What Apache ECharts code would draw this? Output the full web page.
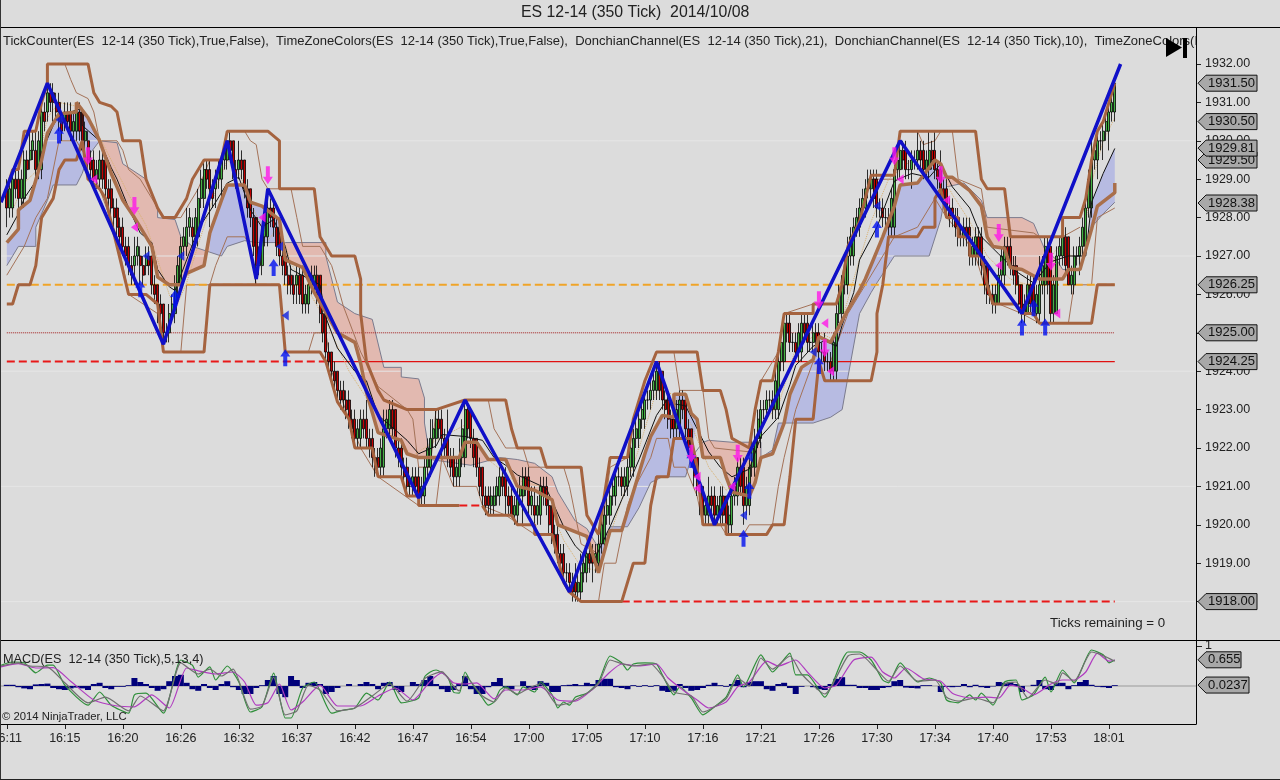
<!DOCTYPE html>
<html><head><meta charset="utf-8">
<style>html,body{margin:0;padding:0;background:#dcdcdc}#c{width:1280px;height:780px}</style>
<script src="https://cdn.jsdelivr.net/npm/echarts@6/dist/echarts.min.js"></script>
</head><body><div id="c"></div>
<script>
const timeLabels=['16:11','16:15','16:20','16:26','16:32','16:37','16:42','16:47','16:54','17:00','17:05','17:10','17:16','17:21','17:26','17:30','17:34','17:40','17:53','18:01'];
const priceTicks=[1932,1931,1930,1929,1928,1927,1926,1925,1924,1923,1922,1921,1920,1919,1918];
const faintLevels=[1930,1927,1924,1921,1918];
const priceTags=[1931.5,1930.5,1929.5,1929.81,1928.38,1926.25,1925,1924.25,1918];
const macdTags=[['0.655',0.655],['0.0237',0.0237]];

const barOpen=[1928.75,1928.25,1929,1928.5,1929.5,1929.75,1929.25,1930.75,1931.25,1931,
1930.5,1930.75,1930.25,1930.75,1930,1929.5,1929,1929.5,1928.75,1928.25,
1927.75,1927.25,1926.75,1927,1926.75,1927,1926.25,1925.75,1925,1925.5,
1926.25,1927.25,1927.75,1927.5,1928.5,1929.25,1928.75,1929,1929.5,1930,
1929.25,1929.5,1928.75,1928,1926.75,1927.5,1928.25,1927.75,1927,1926.5,
1926.25,1926.5,1925.75,1926.25,1926.5,1925.5,1924.5,1924,1923.5,1923.25,
1922.75,1922.25,1922.75,1922.25,1921.75,1921.5,1922.5,1923,1922,1921.5,
1921,1921.25,1920.75,1921.5,1922.25,1922.75,1922.25,1921.75,1921.25,1921.75,
1923,1922.25,1921.5,1920.75,1920.5,1920.75,1921.25,1920.75,1920.25,1920.75,
1921.25,1920.5,1920.25,1921,1920.5,1919.75,1919.25,1918.75,1918.5,1918.25,
1918.75,1919.25,1919,1919.5,1920.25,1920.75,1921.25,1921,1921.5,1922.25,
1922.75,1923.25,1923.5,1924,1923.25,1922.75,1922.5,1923.25,1922.5,1921.75,
1921,1920.25,1920.75,1920.25,1920.75,1920,1920.75,1921.5,1920.5,1921.5,
1922.25,1923,1923.25,1923,1924.25,1925.25,1924.75,1924.5,1925.25,1924.75,
1925,1924.5,1924.25,1924,1925.5,1926.25,1927,1927.75,1928.25,1928.75,
1929,1928.25,1928,1927.75,1929.25,1929.75,1929.25,1929.5,1929.75,1929.25,
1929.75,1929.25,1928.75,1928.25,1928,1927.5,1927.75,1927,1927.5,1926.75,
1926,1925.75,1926.5,1927.25,1926.75,1926.25,1925.5,1926.25,1925.5,1926.25,
1927.25,1925.5,1927,1927.5,1926.25,1927,1927.25,1928.25,1929.5,1930,
1930.25,1930.75];
const barClose=[1928.25,1929,1928.5,1929.5,1929.75,1929.25,1930.75,1931.25,1931,1930.5,
1930.75,1930.25,1930.75,1930,1929.5,1929,1929.5,1928.75,1928.25,1927.75,
1927.25,1926.75,1927,1926.75,1927,1926.25,1925.75,1925,1925.5,1926.25,
1927.25,1927.75,1927.5,1928.5,1929.25,1928.75,1929,1929.5,1930,1929.25,
1929.5,1928.75,1928,1926.75,1927.5,1928.25,1927.75,1927,1926.5,1926.25,
1926.5,1925.75,1926.25,1926.5,1925.5,1924.5,1924,1923.5,1923.25,1922.75,
1922.25,1922.75,1922.25,1921.75,1921.5,1922.5,1923,1922,1921.5,1921,
1921.25,1920.75,1921.5,1922.25,1922.75,1922.25,1921.75,1921.25,1921.75,1923,
1922.25,1921.5,1920.75,1920.5,1920.75,1921.25,1920.75,1920.25,1920.75,1921.25,
1920.5,1920.25,1921,1920.5,1919.75,1919.25,1918.75,1918.5,1918.25,1918.75,
1919.25,1919,1919.5,1920.25,1920.75,1921.25,1921,1921.5,1922.25,1922.75,
1923.25,1923.5,1924,1923.25,1922.75,1922.5,1923.25,1922.5,1921.75,1921,
1920.25,1920.75,1920.25,1920.75,1920,1920.75,1921.5,1920.5,1921.5,1922.25,
1923,1923.25,1923,1924.25,1925.25,1924.75,1924.5,1925.25,1924.75,1925,
1924.5,1924.25,1924,1925.5,1926.25,1927,1927.75,1928.25,1928.75,1929,
1928.25,1928,1927.75,1929.25,1929.75,1929.25,1929.5,1929.75,1929.25,1929.75,
1929.25,1928.75,1928.25,1928,1927.5,1927.75,1927,1927.5,1926.75,1926,
1925.75,1926.5,1927.25,1926.75,1926.25,1925.5,1926.25,1925.5,1926.25,1927.25,
1925.5,1927,1927.5,1926.25,1927,1927.25,1928.25,1929.5,1930,1930.25,
1930.75,1931.5];
const barHigh=[1929,1929.25,1929.25,1929.75,1930.25,1930.25,1931,1931.5,1931.5,1931.25,
1931,1931,1930.75,1930.75,1930.25,1929.75,1929.75,1929.5,1929,1928.5,
1928,1927.5,1927.5,1927.25,1927.25,1927,1926.25,1925.75,1925.75,1926.5,
1927.5,1928.25,1928,1928.75,1929.5,1929.5,1929.25,1929.5,1930.25,1930,
1930,1929.5,1928.75,1928,1927.75,1928.75,1928.5,1928,1927,1926.75,
1926.75,1926.75,1926.5,1926.75,1926.5,1925.5,1924.5,1924,1923.75,1923.5,
1923,1923,1923.25,1922.5,1922,1923,1923.25,1923,1922.25,1921.75,
1921.5,1921.5,1921.75,1922.75,1923,1923,1923,1922,1922.25,1923.25,
1923,1922.25,1921.5,1921,1921,1921.5,1921.5,1921,1921,1921.5,
1921.5,1921,1921.25,1921.25,1920.5,1920,1919.5,1919,1919,1919.25,
1919.5,1919.5,1919.75,1920.5,1921,1921.5,1921.5,1921.75,1922.5,1923,
1923.5,1923.75,1924.25,1924,1923.5,1923.25,1923.5,1923.25,1922.5,1921.75,
1921,1921.25,1921,1921,1920.75,1921,1921.75,1921.75,1921.75,1922.5,
1923.25,1923.5,1923.5,1924.5,1925.5,1925.5,1925,1925.5,1925.5,1925.25,
1925.25,1925,1924.5,1925.75,1926.5,1927.5,1928,1928.5,1929,1929.25,
1929.25,1928.5,1928.25,1929.5,1930,1930,1929.75,1930.25,1930,1930.25,
1930.25,1929.75,1929,1928.5,1928.25,1928,1928,1927.75,1927.75,1926.75,
1926.25,1926.75,1927.5,1927.5,1927,1926.25,1926.5,1926.5,1927,1927.5,
1927.25,1927.25,1927.5,1927.5,1927.25,1927.5,1928.5,1930,1930.25,1930.5,
1931,1931.5];
const barLow=[1927.75,1928,1928.25,1928.25,1929.25,1929,1929,1930.5,1930.5,1930.25,
1930.25,1930,1930,1929.75,1929.25,1928.75,1928.75,1928.5,1928,1927.5,
1927,1926.5,1926.25,1926.25,1926.5,1926,1925.25,1924.75,1924.75,1925.25,
1926,1927,1927.25,1927.25,1928.25,1927.75,1928.25,1928.5,1929.25,1929,
1929,1928.5,1927.75,1926.25,1926.5,1927.25,1927.5,1926.75,1926.25,1926,
1925.75,1925.5,1925.5,1926,1925.25,1924.25,1923.75,1923.25,1923,1922.5,
1922,1922,1922,1921.5,1921.25,1921.25,1922.25,1921.75,1921.25,1920.75,
1920.75,1920.5,1920.5,1921.25,1922,1921.75,1921.5,1921,1921,1921.5,
1922,1921.25,1920.5,1920.25,1920.25,1920.5,1920.25,1920.25,1920,1920,
1920.25,1920,1920,1920.25,1919.5,1919,1918.5,1918.25,1918,1918,
1918.5,1918.5,1918.75,1919.25,1920,1920.5,1920.75,1920.75,1921.25,1922,
1922.5,1923,1923.25,1923,1922.5,1922,1922.25,1922.25,1921.5,1920.75,
1920,1920,1920,1920,1919.75,1919.75,1920.5,1920,1920.25,1921.25,
1922,1922.75,1922.75,1922.75,1924,1924.5,1924.25,1924.25,1924.5,1924.5,
1924.25,1924,1923.75,1923.75,1925.25,1926,1926.75,1927.5,1928,1928.5,
1928,1927.75,1927.5,1927.5,1929,1929,1928.75,1929.25,1929,1929,
1929,1928.5,1928,1927.75,1927.25,1927.25,1926.75,1926.75,1926.5,1925.75,
1925.5,1925.75,1926.25,1926.5,1926,1925.25,1925.5,1925.5,1925.25,1925.25,
1925.25,1925.5,1926.75,1926.25,1926,1926.5,1927,1928,1929,1929.5,
1929.75,1930.5];
const interClose=[1928.75,1928.75,1929,1929.25,1930,1930,1930.5,1931,1930.75,1930.25,
1930.5,1930.5,1930.25,1930.25,1929.25,1929.25,1929,1928.5,1928,1927.5,
1927,1926.5,1927.25,1926.5,1926.75,1926,1925.5,1925,1925.75,1926.75,
1927.5,1928,1928,1929,1929,1928.5,1929.25,1929.75,1929.75,1929,
1929.25,1928.25,1927.25,1927,1928,1928,1927.25,1926.75,1926.25,1926,
1926,1926,1926.5,1926,1925,1924.25,1923.75,1923.25,1923,1922.5,
1922.5,1922.5,1922,1921.5,1922,1922.75,1922.5,1921.75,1921.25,1921,
1921,1921,1922,1922.5,1922.5,1922,1921.5,1921.5,1922.5,1922.5,
1921.75,1921,1920.5,1920.75,1921,1921,1920.5,1920.5,1921,1921,
1920.75,1920.5,1920.75,1920,1919.5,1919,1918.75,1918.25,1918.5,1919,
1919,1919.25,1920,1920.5,1921,1921.25,1921.25,1922,1922.5,1923,
1923.25,1923.75,1923.5,1923,1922.5,1923,1923,1922,1921.25,1920.5,
1920.5,1920.5,1920.5,1920.25,1920.25,1921,1921,1921,1922,1922.75,
1923,1923.25,1923.75,1924.75,1925,1924.75,1925,1925,1924.75,1924.75,
1924.5,1924.25,1924.75,1926,1926.75,1927.5,1928,1928.5,1929,1928.5,
1928.25,1928,1928.5,1929.5,1929.5,1929.25,1929.5,1929.5,1929.5,1929.5,
1929,1928.5,1928,1927.75,1927.5,1927.5,1927.25,1927,1926.25,1926,
1926,1927,1927,1926.5,1925.75,1925.75,1925.75,1926,1926.75,1926.25,
1926.25,1927.25,1926.75,1926.5,1927,1927.75,1929,1929.75,1930,1930.5,
1931];
const interHigh=[1929,1929.25,1929.25,1929.75,1930.25,1930.25,1931,1931.5,1931.25,1930.75,
1931,1930.75,1931,1930.5,1929.75,1929.5,1929.75,1929,1928.5,1928,
1927.5,1927,1927.5,1927,1927.25,1926.5,1926,1925.25,1926,1927,
1927.75,1928.25,1928.25,1929.25,1929.5,1929,1929.5,1930,1930.25,1929.5,
1929.75,1929,1928.25,1927.25,1928.25,1928.5,1928,1927.25,1926.75,1926.5,
1926.75,1926.25,1926.75,1926.75,1925.75,1924.75,1924.25,1923.75,1923.5,1923,
1922.75,1923,1922.5,1922,1922.25,1923,1923.25,1922.25,1921.75,1921.25,
1921.5,1921.25,1922.25,1922.75,1923,1922.5,1922,1921.75,1922.75,1923.25,
1922.5,1921.75,1921,1921,1921.25,1921.5,1921,1920.75,1921.25,1921.5,
1921,1920.75,1921.25,1920.75,1920,1919.5,1919,1918.75,1918.75,1919.25,
1919.5,1919.5,1920.25,1920.75,1921.25,1921.5,1921.5,1922.25,1922.75,1923.25,
1923.5,1924,1924.25,1923.5,1923,1923.25,1923.5,1922.75,1922,1921.25,
1920.75,1921,1920.75,1921,1920.5,1921.25,1921.75,1921.25,1922.25,1923,
1923.25,1923.5,1924,1925,1925.5,1925,1925.25,1925.5,1925,1925.25,
1924.75,1924.5,1925,1926.25,1927,1927.75,1928.25,1928.75,1929.25,1929.25,
1928.5,1928.25,1928.75,1929.75,1930,1929.5,1929.75,1930,1929.75,1930,
1929.5,1929,1928.5,1928.25,1927.75,1928,1927.5,1927.75,1927,1926.25,
1926.25,1927.25,1927.5,1927,1926.5,1926,1926.5,1926.25,1927,1927.5,
1926.5,1927.5,1927.75,1926.75,1927.25,1928,1929.25,1930,1930.25,1930.75,
1931.25];
const interLow=[1928,1928.5,1928.25,1929,1929.5,1929,1930.25,1930.75,1930.5,1930,
1930.25,1930,1930,1929.75,1929,1928.75,1928.75,1928.25,1927.75,1927.25,
1926.75,1926.25,1926.75,1926.25,1926.5,1925.75,1925.25,1924.75,1925.25,1926,
1927,1927.5,1927.25,1928.25,1928.75,1928.25,1928.75,1929.25,1929.5,1928.75,
1929,1928,1927,1926.5,1927.25,1927.75,1927,1926.5,1926,1925.75,
1925.75,1925.5,1926,1925.75,1924.75,1924,1923.5,1923,1922.75,1922.25,
1922,1922.25,1921.75,1921.25,1921.25,1922.25,1922.25,1921.5,1921,1920.75,
1920.75,1920.5,1921.25,1922,1922.25,1921.75,1921.25,1921,1921.5,1922.25,
1921.5,1920.75,1920.25,1920.25,1920.5,1920.75,1920.25,1920,1920.5,1920.75,
1920.25,1920,1920.5,1919.75,1919.25,1918.75,1918.5,1918,1918,1918.5,
1918.75,1918.75,1919.25,1920,1920.5,1921,1920.75,1921.25,1922,1922.5,
1923,1923.25,1923.25,1922.75,1922.25,1922.25,1922.75,1921.75,1921,1920.25,
1920,1920.25,1920,1920,1919.75,1920.5,1920.75,1920.25,1921.25,1922,
1922.75,1923,1922.75,1924,1924.75,1924.5,1924.25,1924.75,1924.5,1924.5,
1924.25,1924,1923.75,1925.25,1926,1926.75,1927.5,1928,1928.5,1928.25,
1928,1927.75,1927.5,1929,1929.25,1929,1929.25,1929.25,1929,1929.25,
1928.75,1928.25,1927.75,1927.5,1927.25,1927.25,1926.75,1926.75,1926,1925.75,
1925.5,1926.25,1926.75,1926.25,1925.5,1925.25,1925.5,1925.25,1926,1926,
1925.25,1926.75,1926.5,1926,1926.75,1927,1928,1929.25,1929.75,1930,
1930.5];

const donUpper=[[1,1928.75],[2,1929.25],[3,1929.25],[4,1930.25],[6,1930.25],[7,1931],[8,1931.5],[8,1932],[15,1932],[16,1931.25],[17,1931],[19,1930.9],[20,1930.75],[21,1930],[24,1930],[25,1929],[27,1928.25],[28,1928],[30,1928],[32,1928.5],[33,1929],[35,1929.5],[38,1929.5],[39,1930.25],[46,1930.25],[48,1930],[48,1928.75],[54,1928.75],[55,1927.5],[57,1927],[61,1927],[62,1926.4],[62,1925.5],[63,1924.25],[65,1923.5],[66,1923.25],[70,1923],[75,1923],[80,1923.25],[87,1923.25],[88,1922.5],[89,1922],[93,1922],[94,1921.5],[100,1921.5],[101,1920.25],[103,1919.75],[105,1921.75],[108,1921.75],[109,1922.75],[111,1923.75],[113,1924.5],[120,1924.5],[121,1923.5],[124,1923.5],[125,1923],[126,1922.25],[129,1922],[130,1923],[131,1923.75],[133,1923.75],[134,1924.5],[135,1925.5],[140,1925.5],[140,1925.75],[144,1925.75],[145,1926.25],[146,1927.25],[148,1927.9],[150,1929.1],[154,1929.1],[155,1930.25],[168,1930.25],[169,1929],[170,1928.75],[173,1928.75],[174,1927.5],[183,1927.5],[183,1928],[186,1928],[187,1928.5],[188,1929.5],[189,1930.25],[190,1930.5],[192,1931.5]];
const donLower=[[1,1925.75],[2,1925.75],[3,1926.25],[5,1926.25],[6,1926.75],[7,1928],[9,1928.5],[10,1929.25],[11,1929.5],[13,1929.5],[14,1930],[15,1929],[17,1928.75],[18,1928.5],[20,1927.25],[22,1926],[25,1926],[27,1925.75],[28,1924.5],[35,1924.5],[36,1926.25],[48,1926.25],[49,1924.5],[55,1924.5],[56,1924.25],[58,1923.2],[60,1922.75],[61,1922],[64,1922],[65,1921.25],[69,1921.25],[70,1920.75],[72,1920.75],[72,1920.5],[79,1920.5]];
const donLower2=[[83,1920.5],[84,1920.25],[88,1920.25],[89,1920],[92,1920],[92,1919.75],[95,1919.75],[97,1918.5],[98,1918.25],[100,1918],[107,1918],[109,1919],[111,1919],[112,1920.5],[113,1921.25],[115,1921.25],[116,1922.25],[119,1922.25],[120,1921.5],[121,1920],[125,1920],[125,1919.75],[132,1919.75],[133,1920],[135,1920],[136,1921.25],[137,1922.75],[140,1922.75],[141,1924.25],[142,1923.75],[150,1923.75],[151,1924.5],[151,1925.5],[152,1926.25],[153,1927.5],[158,1927.5],[159,1927.75],[161,1927.75],[161,1928.5],[162,1928.75],[163,1928],[165,1928],[165,1927.5],[167,1927.5],[167,1927],[169,1927],[170,1926.25],[171,1925.75],[175,1925.75],[176,1925.5],[178,1925.5],[179,1925.25],[188,1925.25],[189,1926.25],[192,1926.25]];
const midLine=[[1,1927.35],[3,1927.7],[3,1928.2],[5,1928.45],[7,1929.5],[8,1930.2],[10,1930.7],[13,1930.75],[13,1931],[15,1930.6],[17,1930],[19,1929.15],[21,1928.45],[23,1928],[24,1927.75],[26,1927.25],[27,1926.45],[29,1926.25],[31,1926.25],[32,1926.55],[35,1926.75],[36,1927.6],[38,1928.45],[39,1928.85],[42,1928.85],[43,1928.4],[45,1928.3],[48,1927.95],[49,1926.9],[52,1926.7],[54,1926.05],[58,1925],[61,1924.75],[62,1924.2],[63,1923.45],[65,1922.4],[69,1922.2],[70,1921.85],[72,1921.75],[79,1921.75],[80,1922.15],[82,1922.15],[84,1921.7],[87,1921.7],[89,1921],[92,1920.9],[95,1920.65],[96,1920],[101,1919.7],[103,1918.75],[105,1919.85],[107,1919.85],[111,1921.85],[112,1922.3],[114,1922.85],[116,1922.8],[116,1923.4],[118,1923.4],[119,1922.9],[120,1922.75],[121,1921.75],[124,1921.75],[125,1921.25],[126,1920.85],[129,1920.75],[130,1921.1],[131,1921.75],[133,1921.85],[135,1922.65],[136,1923.4],[138,1924.1],[140,1924.3],[141,1924.9],[143,1924.75],[146,1925.6],[148,1926.1],[149,1926.4],[152,1927.5],[154,1928.3],[155,1928.85],[158,1928.9],[161,1929.5],[162,1929.4],[163,1929.05],[164,1929.05],[167,1928.7],[169,1928.3],[170,1927.5],[171,1927.25],[173,1927.2],[174,1926.7],[176,1926.65],[179,1926.4],[183,1926.4],[184,1926.65],[186,1926.65],[188,1927.7],[189,1928.3],[192,1928.65],[192,1928.9]];
const cloudEdge=[[1,1926.75],[3,1927.25],[6,1927.25],[6,1927.75],[8,1928.45],[9,1928.85],[13,1928.85],[14,1929.15],[15,1929.6],[17,1930],[20,1929.95],[21,1929.4],[25,1929],[27,1928.2],[27,1928],[30,1927.95],[31,1927.5],[33,1927.25],[36,1927.1],[38,1927],[39,1927.25],[42,1927.4],[44,1927.35],[49,1927.35],[56,1927.35],[56,1927],[58,1925.8],[61,1925.5],[64,1925.35],[66,1924.1],[69,1924.1],[69,1923.85],[72,1923.8],[73,1923.3],[73,1922.65],[74,1921.7],[81,1921.55],[86,1921.75],[89,1921.7],[92,1921.6],[95,1921.25],[96,1920.85],[99,1920.1],[101,1919.9],[103,1919.4],[105,1919.95],[108,1919.95],[110,1920.45],[112,1921.1],[114,1921.25],[118,1921.25],[119,1921.75],[121,1922.15],[122,1922.2],[126,1922.15],[131,1922.15],[131,1921.75],[133,1921.95],[134,1922.65],[136,1922.65],[140,1922.65],[143,1922.8],[145,1923],[146,1923.85],[148,1925.5],[150,1926.05],[151,1926.3],[154,1927],[160,1927],[162,1927.95],[163,1928.8],[166,1928.9],[169,1928.45],[170,1928],[176,1928],[178,1927.85],[179,1927.5],[180,1927.15],[182,1926.9],[183,1926.65],[186,1926.65],[188,1927.75],[190,1928.1],[192,1928.4]];
const cloudSpans=[[1,17,'up'],[17,36,'down'],[36,49,'up'],[49,74,'down'],[74,103,'down'],[103,120,'up'],[120,131,'down'],[131,163,'up'],[163,186,'down'],[186,192,'up']];
const fastLine=[[1,1927.55],[3,1928.1],[4,1928.5],[6,1928.95],[7,1929.7],[9,1930.4],[10,1930.65],[14,1930.85],[14,1930.4],[17,1930],[19,1929.3],[20,1929],[22,1928.25],[24,1927.6],[26,1927.35],[27,1926.65],[29,1926.2],[30,1926.1],[32,1926.9],[34,1927.7],[37,1928.4],[39,1928.9],[41,1929.05],[43,1928.2],[45,1927.75],[47,1927.95],[49,1927.25],[50,1926.65],[55,1926.25],[56,1925.4],[58,1924.6],[61,1924],[63,1923.75],[65,1922.85],[67,1922.6],[70,1922.2],[72,1921.85],[75,1922.05],[76,1922.35],[80,1922.3],[83,1922.2],[85,1921.75],[87,1921.55],[89,1921.3],[94,1920.95],[97,1919.95],[99,1919.45],[102,1919],[105,1919.95],[107,1920.65],[110,1921.7],[113,1922.85],[115,1923.3],[116,1923.15],[118,1923.1],[120,1922.5],[122,1921.9],[124,1921.5],[126,1921.25],[129,1921.45],[131,1922.3],[134,1922.8],[136,1923.65],[137,1924.15],[140,1924.65],[142,1924.8],[144,1924.65],[145,1925.2],[147,1926.05],[148,1926.9],[151,1927.75],[154,1928.95],[157,1929.15],[160,1929.05],[162,1929.4],[164,1928.8],[167,1928.25],[169,1927.5],[172,1927.05],[175,1926.6],[178,1926.3],[181,1926.85],[184,1927],[187,1927],[188,1928.4],[190,1929.15],[192,1929.8]];
const slowLine=[[2,1928.2],[4,1928.9],[6,1929.2],[8,1930.6],[10,1931],[13,1930.9],[16,1930.4],[19,1929.5],[22,1928.6],[25,1927.8],[27,1926.9],[29,1926],[30,1925.6],[32,1926.3],[34,1927.3],[37,1928.7],[39,1929.5],[41,1929.2],[43,1928.4],[46,1927.4],[48,1927.8],[50,1926.8],[53,1926.1],[56,1925.3],[60,1924],[63,1923.3],[67,1922.4],[71,1921.8],[75,1922.2],[80,1922.6],[84,1921.7],[88,1921.2],[93,1921],[97,1919.6],[100,1918.9],[103,1918.8],[106,1920.2],[110,1922],[113,1923.5],[116,1923.4],[119,1922.6],[122,1921.5],[125,1920.9],[128,1921.2],[131,1922.6],[134,1923.1],[137,1924.6],[141,1925],[144,1924.8],[147,1926.4],[150,1927.9],[153,1929],[157,1929.5],[161,1929.5],[164,1928.6],[167,1927.9],[170,1927],[174,1926.4],[178,1926.2],[182,1927.2],[186,1926.9],[188,1928.9],[190,1930],[192,1930.6]];
const thinUpper=[[8,1932],[11,1932],[12,1931.6],[13,1931.25],[15,1931.1],[16,1930.75],[17,1930],[20,1930],[21,1929.75],[22,1929.25],[24,1929],[27,1928.25],[28,1928],[31,1928],[34,1928.75],[36,1929.5],[38,1929.5],[39,1930.25],[42,1930.25],[43,1930],[44,1929.9],[45,1929],[46,1928.75],[50,1928.75],[51,1928],[52,1927.25],[55,1927.25],[56,1927],[57,1926.75],[58,1926.25],[59,1925.7],[62,1924.5],[65,1923.6],[70,1923],[71,1922.75],[72,1921.5],[74,1921.5],[75,1923],[80,1923.25],[84,1923.25],[85,1922.5],[87,1922],[90,1922],[91,1921.5],[97,1921.5],[98,1921],[99,1920.25],[100,1919.5],[103,1919.25],[105,1921.5],[108,1921.75],[109,1922.75],[111,1923.75],[113,1924.5],[116,1924.5],[117,1923.5],[121,1923.5],[122,1922.25],[123,1922],[129,1921.9],[130,1923],[131,1923.75],[134,1924.5],[135,1925.5],[140,1925.75],[144,1925.75],[146,1927.25],[150,1929],[154,1929],[155,1930.25],[158,1930.25],[159,1929.9],[161,1930],[162,1930.25],[164,1930.25],[165,1929],[169,1928.75],[170,1927.75],[178,1927.6],[179,1927.5],[183,1927.5],[186,1927.75]];
const thinLower=[[1,1926.5],[4,1927.25],[6,1928],[8,1928.5],[10,1930],[13,1930],[15,1929.5],[17,1928.75],[20,1927.5],[22,1926],[27,1925.5],[28,1924.5],[31,1924.5],[32,1926.25],[36,1926.25],[37,1926.75],[39,1927.5],[42,1927.5],[43,1927.25],[44,1926.25],[48,1926.25],[49,1924.5],[53,1924.5],[54,1925],[56,1925],[57,1924],[60,1922.75],[62,1922],[65,1921.25],[72,1920.5],[75,1920.5],[76,1921.75],[78,1921],[82,1921],[83,1920.5],[87,1920.25],[92,1919.75],[95,1919.75],[97,1918.5],[100,1918],[103,1918],[104,1919],[106,1919],[108,1920.5],[109,1920.9],[112,1921.75],[113,1922.25],[115,1922.25],[116,1921.5],[118,1921.5],[120,1920.75],[121,1920],[124,1920],[125,1919.75],[128,1919.75],[129,1920],[133,1920],[134,1921],[135,1921.75],[137,1923],[140,1924.25],[143,1924.25],[146,1925.5],[150,1926.5],[154,1927.5],[158,1927.75],[161,1928.5],[163,1928],[166,1927.5],[168,1927],[170,1926],[172,1925.75],[176,1925.5],[179,1925.25],[184,1925.25],[185,1926.25],[188,1926.25],[189,1928],[192,1928.25]];
const zigzag=[[0,1928.4],[8,1931.5],[28,1924.7],[39,1930],[44,1926.4],[46,1928.75],[72,1920.7],[80,1923.25],[98,1918.25],[113,1924.25],[123,1920],[155,1930],[176,1925.5],[193,1932]];

const bigUp=[[10,1930.15],[24,1926.15],[30,1925.9],[47,1926.7],[49,1924.35],[119,1921.7],[128,1919.65],[129,1920.9],[141,1924.15],[151,1927.7],[176,1925.15],[178,1925.65],[180,1925.15]];
const smallBlue=[[10,1930.55],[25,1927],[31,1927],[48,1927.25],[49,1925.45],[128,1920.25],[129,1921.75],[140,1924.5],[151,1928.3]];
const bigDown=[[15,1929.6],[23,1928.3],[46,1929.1],[119,1921.85],[127,1921.85],[141,1925.85],[142,1924.6],[154,1929.6],[162,1929.1],[172,1927.6],[181,1926.85]];
const smallPink=[[16,1929],[23,1927.75],[45,1928],[120,1921.25],[120,1920.95],[126,1921],[142,1925.25],[143,1924],[155,1929],[163,1928.45],[172,1926.75],[182,1925.5]];

const macdGreen=[[0,.52],[2,.6],[4,.58],[6,.33],[8,.52],[9,.52],[11,.02],[15,-.48],[17,-.15],[19,-.48],[22,-.68],[23,-.22],[25,-.18],[28,-.68],[31,.65],[33,.52],[34,.22],[36,.48],[37,.15],[39,.5],[41,.1],[43,-.65],[45,-.52],[47,.32],[49,-.8],[50,-.8],[52,-.05],[54,.1],[57,-.68],[59,-.6],[61,-.55],[63,-.18],[65,-.35],[67,.1],[69,-.42],[72,-.3],[73,.22],[74,.35],[75,.4],[77,.22],[78,-.15],[79,-.18],[80,.35],[81,.1],[83,-.3],[84,-.48],[85,-.4],[86,-.1],[87,-.02],[89,-.22],[90,-.02],[92,-.15],[93,.1],[95,-.22],[96,-.55],[97,-.4],[98,-.48],[99,-.28],[101,-.18],[103,.1],[105,.75],[107,.58],[108,.4],[109,.55],[111,.58],[113,.55],[114,.28],[116,-.22],[117,-.02],[119,-.3],[121,-.72],[123,-.52],[125,-.28],[127,.28],[128,-.02],[131,.78],[133,.35],[136,.82],[137,.28],[139,.28],[142,-.28],[146,.85],[148,.85],[150,.65],[152,.15],[153,.08],[155,.58],[158,.1],[160,.2],[162,.08],[163,-.35],[165,-.42],[167,-.22],[168,-.35],[169,-.18],[171,-.48],[173,.1],[175,.15],[176,-.35],[178,-.22],[180,.22],[181,-.15],[183,.4],[185,.08],[188,.9],[190,.78],[191,.58],[192,.65]];
const macdAvg=[[0,.48],[3,.56],[6,.45],[9,.46],[12,.12],[16,-.35],[20,-.5],[23,-.52],[26,-.22],[29,-.55],[32,.45],[34,.38],[37,.3],[40,.35],[42,.1],[44,-.48],[46,-.42],[48,.05],[50,-.6],[52,-.4],[55,.02],[58,-.5],[62,-.5],[65,-.25],[68,-.05],[71,-.35],[74,.12],[76,.33],[78,.08],[80,.05],[82,.08],[85,-.32],[87,-.1],[90,-.1],[93,-.02],[96,-.35],[99,-.38],[102,-.08],[105,.35],[107,.55],[110,.5],[113,.55],[115,.2],[118,-.15],[120,-.35],[122,-.55],[125,-.4],[127,-.02],[129,.1],[132,.62],[134,.5],[137,.65],[139,.35],[142,-.05],[144,.02],[147,.65],[150,.72],[152,.35],[154,.2],[156,.45],[159,.18],[162,.12],[164,-.18],[167,-.3],[170,-.28],[172,-.3],[174,.02],[176,-.05],[178,-.22],[181,.05],[183,.15],[185,.15],[187,.35],[189,.82],[191,.62],[192,.65]];
const macdGray=[[0,.5],[3,.58],[5,.5],[8,.48],[11,.08],[15,-.42],[18,-.28],[22,-.62],[24,-.25],[28,-.62],[31,.58],[34,.3],[36,.42],[38,.25],[40,.42],[43,-.58],[45,-.5],[47,.22],[49,-.72],[51,-.62],[53,.02],[55,-.1],[58,-.62],[61,-.55],[64,-.25],[67,.05],[70,-.38],[73,.18],[76,.36],[78,0],[79,-.12],[80,.25],[83,-.25],[85,-.4],[87,-.05],[89,-.2],[91,-.05],[93,.05],[96,-.48],[98,-.42],[101,-.18],[103,.05],[105,.65],[107,.56],[109,.5],[112,.55],[114,.25],[116,-.15],[119,-.25],[121,-.65],[125,-.32],[127,.2],[129,0],[131,.7],[133,.42],[136,.75],[138,.3],[142,-.2],[146,.75],[148,.8],[151,.4],[153,.12],[155,.5],[158,.12],[161,.15],[163,-.28],[165,-.38],[168,-.3],[171,-.42],[173,.05],[175,.1],[177,-.3],[180,.15],[182,.05],[183,.33],[185,.12],[188,.85],[190,.76],[192,.62]];
const macdHist=[.03,.03,-.03,-.06,-.08,.04,.05,.06,-.05,-.08,
-.1,-.06,-.04,-.06,-.1,.05,.08,-.05,-.08,-.02,
-.02,.02,.2,.1,.05,-.05,-.12,-.08,.12,.25,
.28,.08,-.08,-.12,.05,-.05,-.1,.05,.12,-.03,
-.1,-.2,-.2,-.05,.02,.15,.25,-.2,-.28,.25,
.15,-.05,.08,.1,.05,-.2,-.15,-.05,0,.05,
0,.05,.1,.05,-.08,.08,.1,-.1,-.15,0,
.1,.05,.15,.25,.05,-.08,-.15,-.1,.05,.25,
-.08,-.2,-.2,-.03,.1,.2,-.05,-.08,0,.12,
-.05,-.1,.12,.08,-.15,-.15,.02,.03,.05,.02,
.08,.05,.15,.18,.18,-.03,-.05,-.08,.02,-.02,
.02,-.02,.02,-.12,-.15,-.12,.05,-.05,-.12,-.1,
-.05,.03,.08,.02,-.02,.05,.15,-.03,.1,.12,
.12,-.08,-.12,.05,.08,-.05,-.2,-.02,0,-.03,
-.08,-.1,.05,.18,.22,.03,.03,-.05,-.05,-.1,
-.1,-.05,-.03,.12,.15,-.04,-.05,-.06,.02,.02,
0,-.15,-.02,-.03,-.02,.05,-.03,.03,-.03,-.05,
-.01,.1,.08,.1,.05,-.15,0,.03,.15,-.08,
-.1,.08,.08,-.08,.02,.1,.15,.03,-.02,-.03,
-.05,.02];

// The axis has one slot per half-position: the arrays above are read at every other slot, the intermediate bars sit between them.
const slots=413;
const cats=[];for(let j=0;j<slots;j++)cats.push('');
const labelSlots=timeLabels.map((t,k)=>{cats[2+20*k]=t;return 2+20*k;});
const S=pts=>pts.map(d=>[d[0]*2,d[1]]);
const inSpan=(arr,a,b)=>arr.filter(d=>d[0]>=a&&d[0]<=b);
const line=(data,color,width,z,extra)=>Object.assign({type:'line',data:S(data),showSymbol:false,symbol:'none',smooth:false,silent:true,animation:false,lineStyle:{color,width},z,xAxisIndex:0,yAxisIndex:0},extra||{});
const lvl=(a,b,v,color,width,type,z)=>line([[a,v],[b,v]],color,width,z,{lineStyle:{color,width,type}});
const upArrow='path://M5 0 L10 6 L7 6 L7 14 L3 14 L3 6 L0 6 Z';
const downArrow='path://M3 0 L7 0 L7 8 L10 8 L5 14 L0 8 L3 8 Z';
const triLeft='path://M0 5 L8 0 L8 10 Z';
const dots=(data,sym,size,color)=>({type:'scatter',data:S(data),symbol:sym,symbolSize:size,itemStyle:{color},z:20,silent:true,animation:false});

const tagRender=(fmt,left,right)=>function(p,api){
  const y=api.coord([0,api.value(0)])[1];const y0=y-8,y1=y+8;
  return {type:'group',children:[
    {type:'polygon',shape:{points:[[left,y],[left+8,y0],[right,y0],[right,y1],[left+8,y1]]},style:{fill:'#a8a8a8',stroke:'#111',lineWidth:1}},
    {type:'text',style:{text:fmt(api.value(0),p.dataIndex),x:left+10,y:y,verticalAlign:'middle',font:'13px "Liberation Sans"',fill:'#111'}}]};
};

const series=[];
const polyPts=(a,b,api)=>a.concat(b.slice().reverse()).map(d=>api.coord([d[0]*2,d[1]]));
series.push({type:'custom',data:cloudSpans.map((s,i)=>[i]),silent:true,animation:false,z:1,clip:true,
  renderItem(p,api){const s=cloudSpans[p.dataIndex];
    return {type:'polygon',shape:{points:polyPts(inSpan(midLine,s[0],s[1]),inSpan(cloudEdge,s[0],s[1]),api)},style:{fill:s[2]==='up'?'#b7bbe2':'#e2b9b0'}};}});
series.push({type:'custom',data:[[0]],silent:true,animation:false,z:1,
  renderItem(p,api){return {type:'polygon',shape:{points:polyPts(inSpan(fastLine,186,192),inSpan(midLine,186,192),api)},style:{fill:'#b7bbe2'}};}});
faintLevels.forEach(v=>series.push(lvl(0,206,v,'#e6e6e6',1,'solid',1)));
series.push(lvl(1,192,1925,'#a01818',1,'dotted',3));
series.push(lvl(1,192,1926.25,'#f0a428',2,'dashed',4));
series.push(lvl(1,56,1924.25,'#e81818',2,'dashed',3));
series.push(lvl(56,192,1924.25,'#e01010',1.2,'solid',3));
series.push(lvl(107,192,1918,'#e81818',2,'dashed',3));
series.push(lvl(79,83,1920.5,'#e81818',2,'dashed',3));
series.push(line(cloudEdge,'#7b7b8e',1,2));
series.push(line(thinUpper,'#a47258',1,3));
series.push(line(thinLower,'#a47258',1,3));
series.push(line(slowLine,'#d8b070',1,3,{lineStyle:{color:'#d8b070',width:1,type:'dotted'}}));
const candleData=barOpen.map((o,k)=>[(k+1)*2,o,barClose[k],barLow[k],barHigh[k]])
  .concat(interClose.map((c,k)=>[(k+1)*2+1,barClose[k],c,interLow[k],interHigh[k]]));
series.push({type:'candlestick',barWidth:2.5,silent:true,animation:false,z:6,
  encode:{x:0,y:[1,2,3,4]},data:candleData,
  itemStyle:{color:'#44b044',color0:'#c00000',borderColor:'#000',borderColor0:'#000',borderWidth:0.8}});
series.push(line(fastLine,'#111',1,7));
series.push(line(donUpper,'#a5633f',3,8));
series.push(line(donLower,'#a5633f',3,8));
series.push(line(donLower2,'#a5633f',3,8));
series.push(line(midLine,'#a96f4b',3.5,9));
series.push(line(zigzag,'#1010c8',3.5,12));
series.push(dots(bigUp,upArrow,[10,17],'#0010f0'));
series.push(dots(smallBlue,triLeft,[7,10],'#1020e0'));
series.push(dots(bigDown,downArrow,[10,18],'#ff18e8'));
series.push(dots(smallPink,triLeft,[7,10],'#ff18e8'));
series.push({type:'custom',data:priceTags.map(v=>[v]),clip:false,silent:true,animation:false,z:30,encode:{y:0},
  renderItem:tagRender(v=>v.toFixed(2),1198,1257)});
const macdAx={xAxisIndex:1,yAxisIndex:1};
const mline=(d,c,w,z)=>Object.assign(line(d,c,w,z),macdAx,{smooth:0.2});
series.push(Object.assign(line([[0,0],[206,0]],'#9a9a9a',1,2),macdAx));
series.push(Object.assign({type:'bar',data:macdHist.map((v,k)=>[(k+1)*2,v]),barWidth:6,itemStyle:{color:'#00007a'},silent:true,animation:false,z:3},macdAx));
series.push(mline(macdGreen,'#2f8f3a',1.2,5));
series.push(mline(macdAvg,'#b03cc0',1.2,5));
series.push(mline(macdGray,'#707070',1.2,6));
series.push(Object.assign({type:'custom',data:macdTags.map(t=>[t[1]]),clip:false,silent:true,animation:false,z:30,encode:{y:0},
  renderItem:function(p,api){const t=macdTags[p.dataIndex];const right=t[0].length>5?1249:1241;
    return tagRender(()=>t[0],1198,right)(p,api);}},macdAx));

const txt=(text,x,y,size,extra)=>Object.assign({type:'text',x,y,z:50,silent:true,style:{text,font:size+'px "Liberation Sans"',fill:'#222',verticalAlign:'middle'}},extra||{});
const rule=(x1,y1,x2,y2,color)=>({type:'line',z:60,silent:true,shape:{x1,y1,x2,y2},style:{stroke:color||'#000',lineWidth:1}});
const graphic=[
  txt('ES 12-14 (350 Tick)  2014/10/08',521,13,15.85),
  txt('TickCounter(ES  12-14 (350 Tick),True,False),  TimeZoneColors(ES  12-14 (350 Tick),True,False),  DonchianChannel(ES  12-14 (350 Tick),21),  DonchianChannel(ES  12-14 (350 Tick),10),  TimeZoneColors(ES  12-14 (350 Tick),True,False)',3,41,13),
  {type:'rect',z:55,silent:true,shape:{x:1197,y:28,width:83,height:30},style:{fill:'#dcdcdc'}},
  {type:'polygon',z:56,silent:true,shape:{points:[[1166,38],[1182,47.5],[1166,57]]},style:{fill:'#000'}},
  {type:'rect',z:56,silent:true,shape:{x:1183,y:38,width:4,height:20},style:{fill:'#000'}},
  txt('Ticks remaining = 0',1050,623,13.3),
  txt('MACD(ES  12-14 (350 Tick),5,13,4)',3,659,12.7),
  txt('© 2014 NinjaTrader, LLC',2,717,11.3),
  rule(0,27.5,1280,27.5),rule(0,640.5,1280,640.5),rule(0,724.5,1196,724.5),rule(1196.5,27,1196.5,724),
  rule(1197,646.5,1202,646.5,'#222'),
  rule(0.5,0,0.5,780,'#333'),rule(0,779.5,1280,779.5,'#222')
];
const axisEdge={show:true,onZero:false,lineStyle:{color:'#000',width:1}};
const chart=echarts.init(document.getElementById('c'),null,{renderer:'canvas'});
chart.setOption({animation:false,backgroundColor:'#dcdcdc',
  grid:[{left:1,right:84,top:28,height:612,containLabel:false,outerBoundsMode:'none'},{left:1,right:84,top:640,height:84,containLabel:false,outerBoundsMode:'none'}],
  xAxis:[
    {type:'category',gridIndex:0,data:cats,boundaryGap:false,axisLine:{show:false,onZero:false},axisTick:{show:false},axisLabel:{show:false},splitLine:{show:false}},
    {type:'category',gridIndex:1,data:cats,boundaryGap:false,axisLine:axisEdge,
     axisTick:{show:true,length:5,lineStyle:{color:'#222',width:1},customValues:labelSlots},
     axisLabel:{customValues:labelSlots,color:'#222',fontFamily:'Liberation Sans',fontSize:12.5,margin:8},splitLine:{show:false}}],
  yAxis:[
    {type:'value',gridIndex:0,position:'right',min:1917,max:1932.9375,interval:1,axisLine:axisEdge,splitLine:{show:false},
     axisTick:{show:true,length:5,lineStyle:{color:'#222',width:1}},
     axisLabel:{customValues:priceTicks,formatter:v=>Number(v).toFixed(2),color:'#222',fontFamily:'Liberation Sans',fontSize:12.5,margin:9}},
    {type:'value',gridIndex:1,position:'right',min:-0.95,max:1.15,axisLine:axisEdge,splitLine:{show:false},
     axisTick:{show:false},
     axisLabel:{customValues:[1],formatter:v=>String(Math.round(v)),color:'#222',fontFamily:'Liberation Sans',fontSize:12.5,margin:9}}],
  series,graphic});
</script></body></html>
